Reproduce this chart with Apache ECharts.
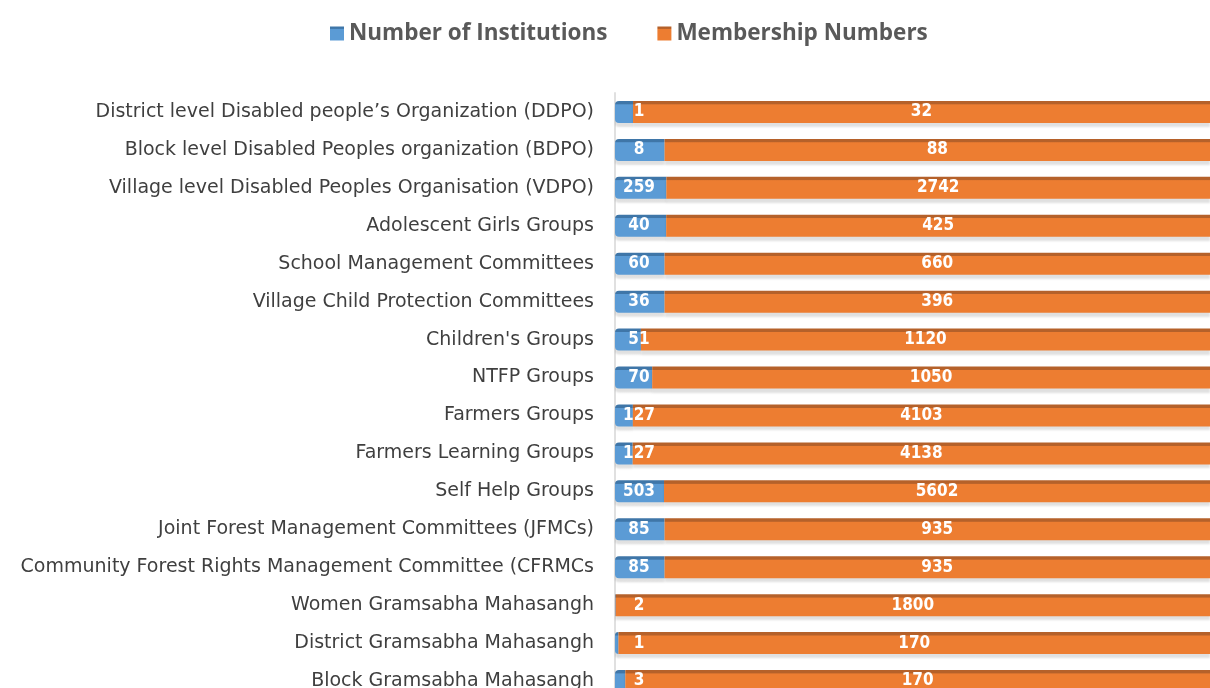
<!DOCTYPE html>
<html><head><meta charset="utf-8">
<script src="https://cdn.jsdelivr.net/npm/echarts@6/dist/echarts.min.js"></script>
<style>html,body{margin:0;padding:0;background:#fff}#c{width:1210px;height:688px}</style>
</head><body><div id="c"></div>
<script>
const categories = [
  "District level Disabled people’s Organization (DDPO)",
  "Block level Disabled Peoples organization (BDPO)",
  "Village level Disabled Peoples Organisation (VDPO)",
  "Adolescent Girls Groups",
  "School Management Committees",
  "Village Child Protection Committees",
  "Children's Groups",
  "NTFP Groups",
  "Farmers Groups",
  "Farmers Learning Groups",
  "Self Help Groups",
  "Joint Forest Management Committees (JFMCs)",
  "Community Forest Rights Management Committee (CFRMCs",
  "Women Gramsabha Mahasangh",
  "District Gramsabha Mahasangh",
  "Block Gramsabha Mahasangh"
];
const institutions = [1, 8, 259, 40, 60, 36, 51, 70, 127, 127, 503, 85, 85, 2, 1, 3];
const membership = [32, 88, 2742, 425, 660, 396, 1120, 1050, 4103, 4138, 5602, 935, 935, 1800, 170, 170];

const totals = categories.map((_, i) => institutions[i] + membership[i]);
const instPct = institutions.map((v, i) => v / totals[i] * 100);
const memPct = membership.map((v, i) => v / totals[i] * 100);

const grad = (dark, main) => new echarts.graphic.LinearGradient(0, 0, 0, 1, [
  {offset: 0, color: dark}, {offset: 0.14, color: dark},
  {offset: 0.17, color: main}, {offset: 1, color: main}
]);
const labelFont = '"DejaVu Sans Condensed", "Liberation Sans Narrow", sans-serif';

const chart = echarts.init(document.getElementById('c'), null, {renderer: 'canvas'});
chart.setOption({
  animation: false,
  backgroundColor: '#ffffff',
  legend: {
    top: 17, left: 325, itemWidth: 14, itemHeight: 14, itemGap: 50,
    icon: 'rect',
    textStyle: {fontFamily: '"Open Sans", sans-serif', fontSize: 22.5, fontWeight: 'bold', color: '#595959'},
    data: ['Number of Institutions', 'Membership Numbers']
  },
  grid: {left: 615, right: 0, top: 93, height: 607, containLabel: false, outerBoundsMode: 'none'},
  xAxis: {type: 'value', min: 0, max: 100, show: false},
  yAxis: {
    type: 'category', inverse: true, data: categories,
    axisLine: {show: true, lineStyle: {color: '#e0e0e0', width: 2}},
    axisTick: {show: false},
    splitLine: {show: false},
    axisLabel: {margin: 21, fontFamily: '"DejaVu Sans", sans-serif', fontSize: 19, color: '#3f3f3f'}
  },
  series: [
    {
      name: 'Number of Institutions', type: 'bar', stack: 'a', barWidth: 22,
      data: instPct,
      itemStyle: {color: grad('#3f76a8', '#5b9bd5'), borderRadius: [4, 0, 0, 4],
        shadowColor: 'rgba(0,0,0,0.12)', shadowOffsetY: 4, shadowBlur: 2},
      label: {show: true, position: [24, '50%'], align: 'center', verticalAlign: 'middle',
        color: '#ffffff', fontWeight: 'bold', fontSize: 17, fontFamily: labelFont,
        formatter: p => institutions[p.dataIndex]}
    },
    {
      name: 'Membership Numbers', type: 'bar', stack: 'a', barWidth: 22,
      data: memPct,
      itemStyle: {color: grad('#b5612a', '#ed7d31'),
        shadowColor: 'rgba(0,0,0,0.12)', shadowOffsetY: 4, shadowBlur: 2},
      label: {show: true, position: 'inside',
        color: '#ffffff', fontWeight: 'bold', fontSize: 17, fontFamily: labelFont,
        formatter: p => membership[p.dataIndex]}
    }
  ],
  color: ['#5b9bd5', '#ed7d31']
});
</script></body></html>
